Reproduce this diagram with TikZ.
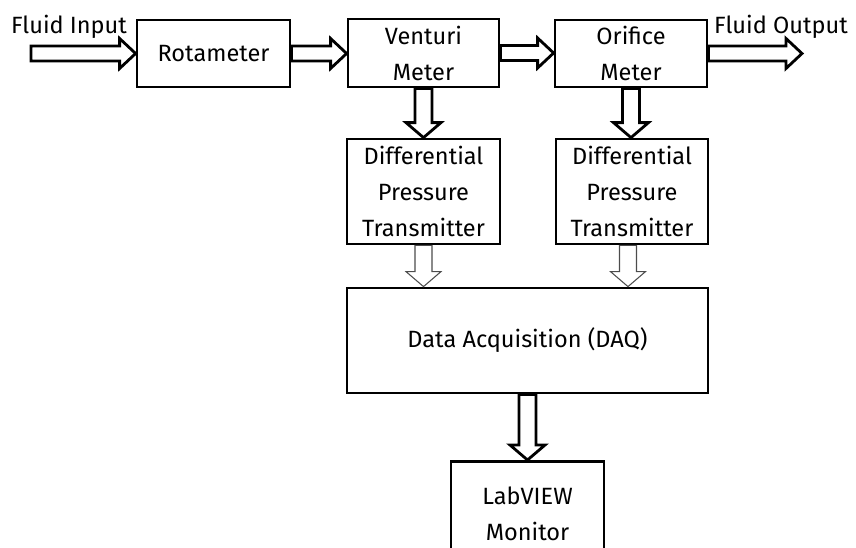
\documentclass[tikz,border=0pt]{standalone}
\usepackage{fontspec}
\setmainfont{Fira Sans}
\usetikzlibrary{calc}

% hollow block arrows, tail -> tip
\newcommand{\fatright}[3][]{%
  \draw[fat,#1] let \p1=(#2), \p2=(#3) in
    (\x1,\y1+0.15cm) -- (\x2-0.32cm,\y1+0.15cm) -- (\x2-0.32cm,\y1+0.3cm)
    -- (\x2,\y1) -- (\x2-0.32cm,\y1-0.3cm) -- (\x2-0.32cm,\y1-0.15cm)
    -- (\x1,\y1-0.15cm) -- cycle;}
\newcommand{\fatdown}[3][]{%
  \draw[fat,#1] let \p1=(#2), \p2=(#3) in
    (\x1-0.17cm,\y1) -- (\x1-0.17cm,\y2+0.3cm) -- (\x1-0.35cm,\y2+0.3cm)
    -- (\x1,\y2) -- (\x1+0.35cm,\y2+0.3cm) -- (\x1+0.17cm,\y2+0.3cm)
    -- (\x1+0.17cm,\y1) -- cycle;}

\tikzset{
  block/.style={draw, line width=1.6pt, align=center, inner ysep=1pt,
    font=\fontsize{13.4}{20.5}\selectfont},
  fat/.style={line width=1.6pt},
  thin/.style={line width=0.6pt, draw=black!70},
  label/.style={font=\fontsize{13.4}{16}\selectfont}
}

\begin{document}
\begin{tikzpicture}[x=0.02cm, y=-0.02cm]
        \useasboundingbox (0,0) rectangle (856,548);

        % Top row
        \node[block, minimum width=3.06cm, minimum height=1.34cm] (rot) at (213.5,53.5) {Rotameter};
        \node[block, minimum width=3.02cm, minimum height=1.36cm] (ven) at (423.5,53) {Venturi\\Meter};
        \node[block, minimum width=3.04cm, minimum height=1.34cm] (ori) at (631,53.5) {Orifice\\Meter};

        % Transmitters
        \node[block, minimum width=3.06cm, minimum height=2.1cm] (dpt1) at (423.5,191.5) {Differential\\Pressure\\Transmitter};
        \node[block, minimum width=3.04cm, minimum height=2.1cm] (dpt2) at (632,191.5) {Differential\\Pressure\\Transmitter};

        % DAQ and monitor
        \node[block, minimum width=7.22cm, minimum height=2.1cm] (daq) at (527.5,340.5) {Data Acquisition (DAQ)};
        \node[block, minimum width=3.06cm, minimum height=2.1cm, anchor=north] (lab) at (527.5,460) {LabVIEW\\Monitor};

        % Fluid labels
        \node[label] (in) at (69,27) {Fluid Input};
        \node[label] (out) at (781,27) {Fluid Output};
        \coordinate (src) at (31,53.5);
        \coordinate (snk) at (802,53.5);

        % Flow arrows
        \fatright{src}{rot.west}
        \fatright{rot.east}{ven.west}
        \fatright{ven.east}{ori.west}
        \fatright{ori.east}{snk}

        \fatdown{ven.south}{dpt1.north}
        \fatdown{ori.south}{dpt2.north}
        \fatdown[thin]{dpt1.south}{dpt1.south |- daq.north}
        \fatdown[thin]{[xshift=-0.08cm]dpt2.south}{[xshift=-0.08cm]dpt2.south |- daq.north}
        \fatdown{daq.south}{lab.north}
    \end{tikzpicture}
\end{document}
